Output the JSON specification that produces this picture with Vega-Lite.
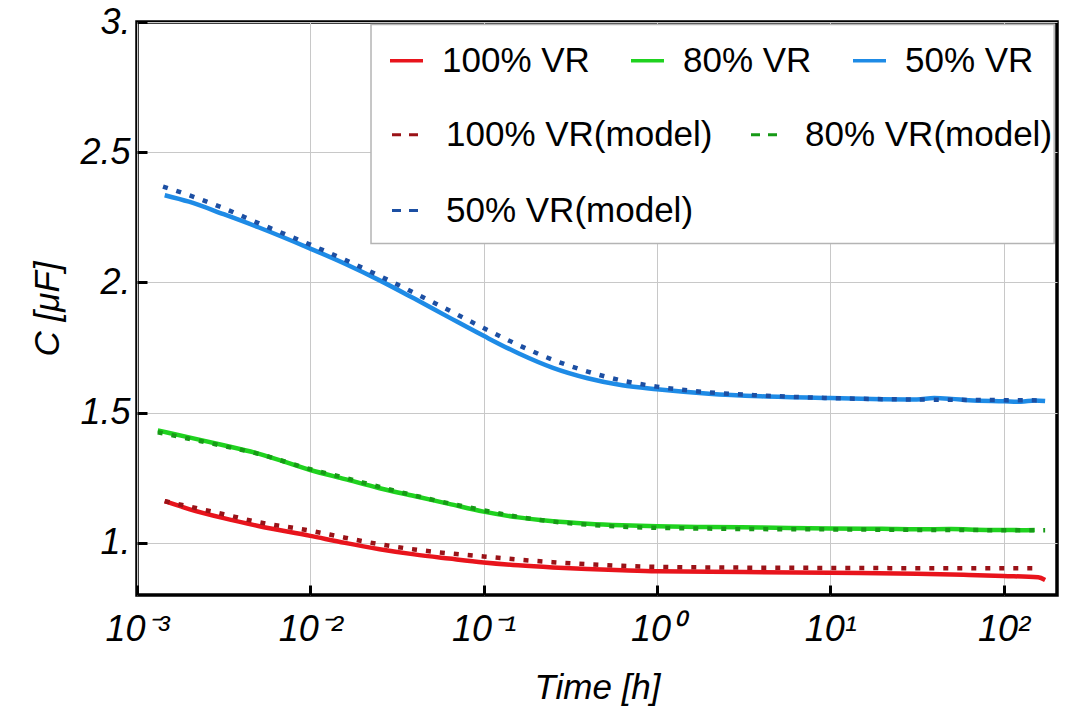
{
  "$schema": "https://vega.github.io/schema/vega-lite/v6.json",
  "width": 920,
  "height": 573,
  "autosize": {"type": "none"},
  "padding": {"left": 137, "top": 22, "right": 19, "bottom": 117},
  "background": "white",
  "config": {
    "font": "Liberation Sans",
    "view": {"stroke": "black", "strokeWidth": 3.5},
    "axis": {
      "grid": true,
      "gridColor": "#c8c8c8",
      "gridWidth": 1,
      "domain": false,
      "ticks": true,
      "tickColor": "black",
      "tickWidth": 3,
      "tickSize": -10,
      "labelColor": "black",
      "labelFont": "Liberation Sans",
      "labelFontStyle": "italic",
      "labelFontSize": 36,
      "labelFlush": false,
      "labelOverlap": false,
      "labelBound": false,
      "titleColor": "black",
      "titleFont": "Liberation Sans",
      "titleFontStyle": "italic",
      "titleFontWeight": "normal",
      "titleFontSize": 35
    }
  },
  "datasets": {
    "measured": [
      {"t": 0.001445, "C": 2.335, "series": "50% VR"},
      {"t": 0.001995, "C": 2.31, "series": "50% VR"},
      {"t": 0.003162, "C": 2.262, "series": "50% VR"},
      {"t": 0.005012, "C": 2.212, "series": "50% VR"},
      {"t": 0.01, "C": 2.13, "series": "50% VR"},
      {"t": 0.01585, "C": 2.072, "series": "50% VR"},
      {"t": 0.02512, "C": 2.008, "series": "50% VR"},
      {"t": 0.03981, "C": 1.938, "series": "50% VR"},
      {"t": 0.0631, "C": 1.866, "series": "50% VR"},
      {"t": 0.1, "C": 1.795, "series": "50% VR"},
      {"t": 0.1585, "C": 1.728, "series": "50% VR"},
      {"t": 0.2512, "C": 1.672, "series": "50% VR"},
      {"t": 0.3981, "C": 1.632, "series": "50% VR"},
      {"t": 0.631, "C": 1.605, "series": "50% VR"},
      {"t": 1, "C": 1.59, "series": "50% VR"},
      {"t": 1.995, "C": 1.573, "series": "50% VR"},
      {"t": 3.981, "C": 1.563, "series": "50% VR"},
      {"t": 10, "C": 1.556, "series": "50% VR"},
      {"t": 19.95, "C": 1.552, "series": "50% VR"},
      {"t": 31.62, "C": 1.551, "series": "50% VR"},
      {"t": 39.81, "C": 1.556, "series": "50% VR"},
      {"t": 50.12, "C": 1.553, "series": "50% VR"},
      {"t": 63.1, "C": 1.548, "series": "50% VR"},
      {"t": 100, "C": 1.544, "series": "50% VR"},
      {"t": 125.9, "C": 1.542, "series": "50% VR"},
      {"t": 151.4, "C": 1.547, "series": "50% VR"},
      {"t": 173.8, "C": 1.545, "series": "50% VR"},

      {"t": 0.001318, "C": 1.432, "series": "80% VR"},
      {"t": 0.001995, "C": 1.405, "series": "80% VR"},
      {"t": 0.003162, "C": 1.375, "series": "80% VR"},
      {"t": 0.005012, "C": 1.343, "series": "80% VR"},
      {"t": 0.01, "C": 1.28, "series": "80% VR"},
      {"t": 0.01585, "C": 1.245, "series": "80% VR"},
      {"t": 0.02512, "C": 1.21, "series": "80% VR"},
      {"t": 0.03981, "C": 1.18, "series": "80% VR"},
      {"t": 0.0631, "C": 1.15, "series": "80% VR"},
      {"t": 0.1, "C": 1.12, "series": "80% VR"},
      {"t": 0.1585, "C": 1.098, "series": "80% VR"},
      {"t": 0.2512, "C": 1.083, "series": "80% VR"},
      {"t": 0.3981, "C": 1.074, "series": "80% VR"},
      {"t": 0.631, "C": 1.068, "series": "80% VR"},
      {"t": 1, "C": 1.064, "series": "80% VR"},
      {"t": 1.995, "C": 1.061, "series": "80% VR"},
      {"t": 3.981, "C": 1.059, "series": "80% VR"},
      {"t": 10, "C": 1.055, "series": "80% VR"},
      {"t": 19.95, "C": 1.054, "series": "80% VR"},
      {"t": 31.62, "C": 1.052, "series": "80% VR"},
      {"t": 50.12, "C": 1.053, "series": "80% VR"},
      {"t": 79.43, "C": 1.05, "series": "80% VR"},
      {"t": 100, "C": 1.05, "series": "80% VR"},
      {"t": 125.9, "C": 1.049, "series": "80% VR"},
      {"t": 151.4, "C": 1.05, "series": "80% VR"},

      {"t": 0.001445, "C": 1.16, "series": "100% VR"},
      {"t": 0.001995, "C": 1.13, "series": "100% VR"},
      {"t": 0.003162, "C": 1.095, "series": "100% VR"},
      {"t": 0.005012, "C": 1.065, "series": "100% VR"},
      {"t": 0.01, "C": 1.027, "series": "100% VR"},
      {"t": 0.01585, "C": 1.0, "series": "100% VR"},
      {"t": 0.02512, "C": 0.976, "series": "100% VR"},
      {"t": 0.03981, "C": 0.956, "series": "100% VR"},
      {"t": 0.0631, "C": 0.94, "series": "100% VR"},
      {"t": 0.1, "C": 0.925, "series": "100% VR"},
      {"t": 0.1585, "C": 0.914, "series": "100% VR"},
      {"t": 0.2512, "C": 0.906, "series": "100% VR"},
      {"t": 0.3981, "C": 0.9, "series": "100% VR"},
      {"t": 0.631, "C": 0.895, "series": "100% VR"},
      {"t": 1, "C": 0.891, "series": "100% VR"},
      {"t": 3.162, "C": 0.888, "series": "100% VR"},
      {"t": 10, "C": 0.885, "series": "100% VR"},
      {"t": 31.62, "C": 0.882, "series": "100% VR"},
      {"t": 63.1, "C": 0.877, "series": "100% VR"},
      {"t": 100, "C": 0.873, "series": "100% VR"},
      {"t": 158.5, "C": 0.868, "series": "100% VR"},
      {"t": 173.8, "C": 0.858, "series": "100% VR"}
    ],
    "model": [
      {"t": 0.001413, "C": 2.368, "series": "50% VR(model)"},
      {"t": 0.001995, "C": 2.335, "series": "50% VR(model)"},
      {"t": 0.003162, "C": 2.285, "series": "50% VR(model)"},
      {"t": 0.005012, "C": 2.228, "series": "50% VR(model)"},
      {"t": 0.01, "C": 2.145, "series": "50% VR(model)"},
      {"t": 0.01585, "C": 2.087, "series": "50% VR(model)"},
      {"t": 0.02512, "C": 2.025, "series": "50% VR(model)"},
      {"t": 0.03981, "C": 1.96, "series": "50% VR(model)"},
      {"t": 0.0631, "C": 1.893, "series": "50% VR(model)"},
      {"t": 0.1, "C": 1.825, "series": "50% VR(model)"},
      {"t": 0.1585, "C": 1.76, "series": "50% VR(model)"},
      {"t": 0.2512, "C": 1.703, "series": "50% VR(model)"},
      {"t": 0.3981, "C": 1.658, "series": "50% VR(model)"},
      {"t": 0.631, "C": 1.623, "series": "50% VR(model)"},
      {"t": 1, "C": 1.6, "series": "50% VR(model)"},
      {"t": 1.995, "C": 1.578, "series": "50% VR(model)"},
      {"t": 3.981, "C": 1.566, "series": "50% VR(model)"},
      {"t": 10, "C": 1.556, "series": "50% VR(model)"},
      {"t": 19.95, "C": 1.552, "series": "50% VR(model)"},
      {"t": 39.81, "C": 1.55, "series": "50% VR(model)"},
      {"t": 63.1, "C": 1.549, "series": "50% VR(model)"},
      {"t": 100, "C": 1.548, "series": "50% VR(model)"},
      {"t": 173.8, "C": 1.547, "series": "50% VR(model)"},

      {"t": 0.001318, "C": 1.425, "series": "80% VR(model)"},
      {"t": 0.001995, "C": 1.4, "series": "80% VR(model)"},
      {"t": 0.003162, "C": 1.372, "series": "80% VR(model)"},
      {"t": 0.005012, "C": 1.342, "series": "80% VR(model)"},
      {"t": 0.01, "C": 1.283, "series": "80% VR(model)"},
      {"t": 0.01585, "C": 1.25, "series": "80% VR(model)"},
      {"t": 0.02512, "C": 1.215, "series": "80% VR(model)"},
      {"t": 0.03981, "C": 1.182, "series": "80% VR(model)"},
      {"t": 0.0631, "C": 1.152, "series": "80% VR(model)"},
      {"t": 0.1, "C": 1.125, "series": "80% VR(model)"},
      {"t": 0.1585, "C": 1.1, "series": "80% VR(model)"},
      {"t": 0.2512, "C": 1.082, "series": "80% VR(model)"},
      {"t": 0.3981, "C": 1.07, "series": "80% VR(model)"},
      {"t": 0.631, "C": 1.062, "series": "80% VR(model)"},
      {"t": 1, "C": 1.058, "series": "80% VR(model)"},
      {"t": 1.995, "C": 1.055, "series": "80% VR(model)"},
      {"t": 3.981, "C": 1.053, "series": "80% VR(model)"},
      {"t": 10, "C": 1.052, "series": "80% VR(model)"},
      {"t": 31.62, "C": 1.05, "series": "80% VR(model)"},
      {"t": 100, "C": 1.049, "series": "80% VR(model)"},
      {"t": 173.8, "C": 1.049, "series": "80% VR(model)"},

      {"t": 0.001445, "C": 1.16, "series": "100% VR(model)"},
      {"t": 0.001995, "C": 1.14, "series": "100% VR(model)"},
      {"t": 0.003162, "C": 1.11, "series": "100% VR(model)"},
      {"t": 0.005012, "C": 1.08, "series": "100% VR(model)"},
      {"t": 0.01, "C": 1.047, "series": "100% VR(model)"},
      {"t": 0.01585, "C": 1.02, "series": "100% VR(model)"},
      {"t": 0.02512, "C": 0.995, "series": "100% VR(model)"},
      {"t": 0.03981, "C": 0.975, "series": "100% VR(model)"},
      {"t": 0.0631, "C": 0.96, "series": "100% VR(model)"},
      {"t": 0.1, "C": 0.948, "series": "100% VR(model)"},
      {"t": 0.1585, "C": 0.936, "series": "100% VR(model)"},
      {"t": 0.2512, "C": 0.926, "series": "100% VR(model)"},
      {"t": 0.3981, "C": 0.918, "series": "100% VR(model)"},
      {"t": 0.631, "C": 0.912, "series": "100% VR(model)"},
      {"t": 1, "C": 0.908, "series": "100% VR(model)"},
      {"t": 3.162, "C": 0.905, "series": "100% VR(model)"},
      {"t": 10, "C": 0.904, "series": "100% VR(model)"},
      {"t": 31.62, "C": 0.903, "series": "100% VR(model)"},
      {"t": 100, "C": 0.903, "series": "100% VR(model)"},
      {"t": 162.2, "C": 0.903, "series": "100% VR(model)"}
    ]
  },
  "layer": [
    {
      "data": {"values": [{}]},
      "mark": {"type": "rect", "fill": "white", "stroke": "#b4b4b4", "strokeWidth": 1.5},
      "encoding": {
        "x": {"datum": 0.0224, "type": "quantitative"},
        "x2": {"datum": 196},
        "y": {"datum": 2.15, "type": "quantitative"},
        "y2": {"datum": 2.99}
      }
    },
    {
      "data": {"name": "measured"},
      "mark": {"type": "line", "strokeWidth": 4.5, "interpolate": "monotone"},
      "encoding": {
        "x": {
          "field": "t",
          "type": "quantitative",
          "scale": {"type": "log", "domain": [0.001, 203.5], "nice": false},
          "axis": {
            "title": "Time [h]",
            "values": [0.001, 0.01, 0.1, 1, 10, 100],
            "labelExpr": "datum.value < 0.005 ? '10⁻³' : datum.value < 0.05 ? '10⁻²' : datum.value < 0.5 ? '10⁻¹' : datum.value < 5 ? '10⁰' : datum.value < 50 ? '10¹' : '10²'",
            "labelPadding": 27,
            "titlePadding": 23
          }
        },
        "y": {
          "field": "C",
          "type": "quantitative",
          "scale": {"domain": [0.8, 3], "nice": false, "zero": false},
          "axis": {
            "title": "C [μF]",
            "values": [1, 1.5, 2, 2.5, 3],
            "labelExpr": "datum.value % 1 == 0 ? format(datum.value, 'd') + '.' : format(datum.value, '.1f')",
            "labelPadding": 17,
            "titlePadding": 14
          }
        },
        "color": {
          "field": "series",
          "type": "nominal",
          "scale": {"domain": ["100% VR", "80% VR", "50% VR"], "range": ["#e8141c", "#1fd21f", "#1e8be6"]},
          "legend": {
            "title": null,
            "orient": "none",
            "legendX": 251,
            "legendY": 20,
            "direction": "horizontal",
            "columns": 3,
            "padding": 0,
            "symbolType": "stroke",
            "symbolSize": 1089,
            "symbolStrokeWidth": 3.5,
            "labelFontSize": 35,
            "labelFont": "Liberation Sans",
            "labelColor": "black",
            "labelOffset": 17,
            "labelLimit": 500,
            "columnPadding": 34
          }
        }
      }
    },
    {
      "data": {"name": "model"},
      "mark": {"type": "line", "strokeWidth": 4.5, "strokeDash": [5, 9], "interpolate": "monotone"},
      "encoding": {
        "x": {"field": "t", "type": "quantitative"},
        "y": {"field": "C", "type": "quantitative"},
        "color": {
          "field": "series",
          "type": "nominal",
          "scale": {"domain": ["100% VR(model)", "80% VR(model)", "50% VR(model)"], "range": ["#9a1217", "#169a16", "#1c4fa3"]},
          "legend": {
            "title": null,
            "orient": "none",
            "legendX": 251,
            "legendY": 95,
            "direction": "horizontal",
            "columns": 2,
            "padding": 0,
            "symbolType": "stroke",
            "symbolSize": 729,
            "symbolStrokeWidth": 3,
            "symbolDash": [9, 8],
            "labelFontSize": 35,
            "labelFont": "Liberation Sans",
            "labelColor": "black",
            "labelOffset": 23,
            "labelLimit": 500,
            "columnPadding": 32,
            "rowPadding": 40
          }
        }
      }
    }
  ],
  "resolve": {"scale": {"color": "independent"}, "legend": {"color": "independent"}}
}
